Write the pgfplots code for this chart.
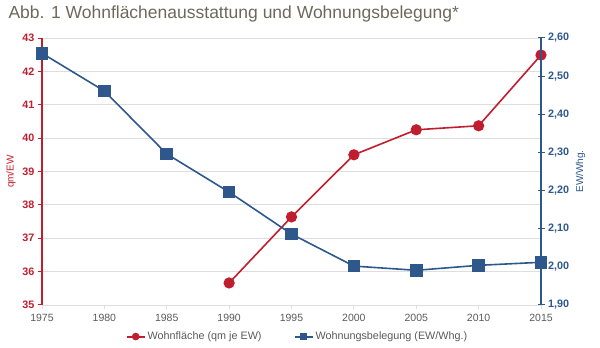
\documentclass[border=0pt]{standalone}
\usepackage{pgfplots}
\pgfplotsset{compat=1.18}
\usepackage{fontspec}
\setmainfont{Liberation Sans}
\definecolor{cred}{RGB}{192,30,46}
\definecolor{cblue}{RGB}{46,88,140}
\definecolor{ctitle}{RGB}{110,104,92}
\definecolor{cgrid}{RGB}{222,222,222}
\definecolor{ctick}{RGB}{90,90,90}
\begin{document}
\begin{tikzpicture}
\useasboundingbox (0pt,0pt) rectangle (600pt,348pt);
\node[anchor=west,text=ctitle,font=\fontsize{17.5}{20}\selectfont] at (5pt,334pt) {Abb. 1 Wohnflächenausstattung und Wohnungsbelegung*};
\begin{axis}[
  at={(42pt,43pt)}, anchor=south west,
  scale only axis, width=499pt, height=267pt,
  xmin=1975, xmax=2015, ymin=35, ymax=43,
  xtick={1975,1980,...,2015},
  ytick={35,...,43},
  /pgf/number format/assume math mode=true,
  xticklabel style={font=\fontsize{10.5}{12}\selectfont, text=ctick, /pgf/number format/1000 sep={}},
  yticklabel style={font=\bfseries\fontsize{10.8}{12}\selectfont, text=cred},
  x tick label style={yshift=-2pt},
  ymajorgrids, grid style={cgrid, line width=0.8pt},
  axis x line*=bottom, axis y line*=left,
  x axis line style={draw=cgrid, line width=0.8pt, -},
  y axis line style={draw=cred, line width=2pt, -},
  ytick style={draw=cred, line width=1pt},
  xtick style={draw=cgrid, line width=0.8pt},
  major tick length=4pt,
  tick align=outside,
  ylabel={qm/EW}, ylabel style={text=cred, font=\fontsize{10}{12}\selectfont},
  clip=false,
  legend style={at={(0.512,-0.085)}, anchor=north, draw=none, fill=none, legend columns=2, font=\fontsize{10.8}{12}\selectfont, text=ctick, /tikz/every even column/.append style={column sep=30pt}},
  legend image code/.code={\draw[#1, line width=2pt] (0pt,0pt) -- (18pt,0pt); \draw[#1, mark size=3pt, mark repeat=1] plot coordinates {(9pt,0pt)};},
]
\addplot[cred, line width=1.6pt, mark=*, mark size=4.8pt, mark options={fill=cred, draw=cred}] coordinates {
(1990,35.66) (1995,37.64) (2000,39.50) (2005,40.25) (2010,40.37) (2015,42.49)};
\addlegendentry{Wohnfläche (qm je EW)}
\addlegendimage{cblue, line width=1.6pt, mark=square*, mark size=3.2pt, mark options={fill=cblue, draw=cblue}}
\addlegendentry{Wohnungsbelegung (EW/Whg.)}
\end{axis}
\begin{axis}[
  at={(42pt,43pt)}, anchor=south west,
  scale only axis, width=499pt, height=267pt,
  xmin=1975, xmax=2015, ymin=1.9, ymax=2.6,
  axis x line=none, axis y line*=right,
  ytick={1.9,2.0,...,2.6},
  /pgf/number format/assume math mode=true,
  yticklabel style={font=\bfseries\fontsize{10.8}{12}\selectfont, text=cblue, /pgf/number format/.cd, fixed, fixed zerofill, precision=2, use comma},
  y axis line style={draw=cblue, line width=2pt, -},
  ytick style={draw=cblue, line width=1pt},
  major tick length=7pt,
  tick align=center,
  ylabel={EW/Whg.}, ylabel style={text=cblue, font=\fontsize{10}{12}\selectfont},
  clip=false,
]
\addplot[cblue, line width=1.6pt, mark=square*, mark size=5.5pt, mark options={fill=cblue, draw=cblue}] coordinates {
(1975,2.560) (1980,2.461) (1985,2.296) (1990,2.196) (1995,2.086) (2000,2.002) (2005,1.991) (2010,2.004) (2015,2.012)};
\end{axis}
\end{tikzpicture}
\end{document}
